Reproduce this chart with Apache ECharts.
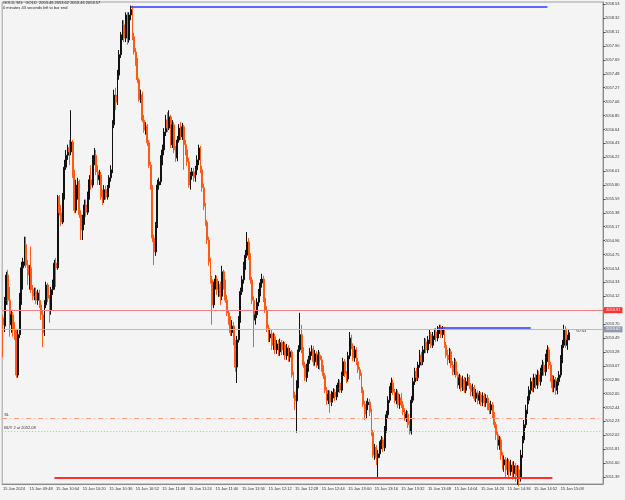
<!DOCTYPE html>
<html>
<head>
<meta charset="utf-8">
<script src="https://cdn.jsdelivr.net/npm/echarts@6/dist/echarts.min.js"></script>
<style>
  html, body { margin: 0; padding: 0; background: #f4f4f4; }
  #chart { width: 625px; height: 500px; }
</style>
</head>
<body>
<div id="chart"></div>
<script>
// GOLD M1, prices as cents above 2050.00
const opens = [379,367,406,444,406,369,384,361,354,293,354,406,455,464,490,459,444,455,422,412,419,406,417,399,384,357,399,429,409,391,
422,429,462,455,562,538,524,565,607,625,636,630,645,595,542,580,585,535,512,527,550,539,565,588,580,618,625,600,588,595,
562,558,573,562,576,591,603,671,716,705,746,777,807,822,802,837,799,837,845,804,781,766,739,709,716,678,663,669,644,610,
577,500,479,520,580,585,618,633,660,678,666,683,641,671,633,621,648,666,653,668,641,633,615,580,594,600,591,603,618,636,
603,576,548,524,497,464,437,399,428,438,422,429,412,449,429,406,387,376,357,367,343,305,346,376,419,437,458,474,494,473,
437,406,376,384,403,417,432,438,409,391,364,349,355,338,351,331,340,328,342,331,338,322,334,320,328,293,263,254,278,331,
354,331,308,289,304,316,328,332,313,325,308,323,316,304,292,270,255,264,252,263,267,260,273,281,270,292,313,295,287,322,
349,337,319,331,313,301,292,270,249,234,248,252,237,206,172,183,168,174,187,195,183,210,233,255,270,281,267,255,266,248,
258,248,237,228,234,218,207,255,283,298,289,308,323,313,331,343,331,346,354,338,352,358,349,361,364,354,361,338,323,316,
328,308,298,313,293,278,289,274,286,270,283,289,277,268,274,258,266,255,263,252,261,251,258,246,240,248,233,218,203,187,
195,172,157,165,150,162,147,157,144,156,141,150,138,172,195,218,240,255,270,283,274,289,278,293,283,298,308,298,319,331,
308,289,274,286,270,283,293,316,338,361,338,346];
const closes = [369,406,444,406,369,384,361,354,293,354,406,455,464,490,459,444,455,422,412,419,406,417,399,384,357,399,429,409,391,422,
429,462,455,562,538,524,565,607,625,636,630,645,595,542,580,585,535,512,527,550,539,565,588,580,618,625,600,588,595,562,
558,573,562,576,591,603,671,716,705,746,777,807,822,802,837,799,837,845,804,781,766,739,709,716,678,663,669,644,610,577,
500,479,520,580,585,618,633,660,678,666,683,641,671,633,621,648,666,653,668,641,633,615,580,594,600,591,603,618,636,603,
576,548,524,497,464,437,399,428,438,422,429,412,449,429,406,387,376,357,367,343,305,346,376,419,437,458,474,494,473,437,
406,376,384,403,417,432,438,409,391,364,349,355,338,351,331,340,328,342,331,338,322,334,320,328,293,263,254,278,331,354,
331,308,289,304,316,328,332,313,325,308,323,316,304,292,270,255,264,252,263,267,260,273,281,270,292,313,295,287,322,349,
337,319,331,313,301,292,270,249,234,248,252,237,206,172,183,168,174,187,195,183,210,233,255,270,281,267,255,266,248,258,
248,237,228,234,218,207,255,283,298,289,308,323,313,331,343,331,346,354,338,352,358,349,361,364,354,361,338,323,316,328,
308,298,313,293,278,289,274,286,270,283,289,277,268,274,258,266,255,263,252,261,251,258,246,240,248,233,218,203,187,195,
172,157,165,150,162,147,157,144,156,141,150,138,172,195,218,240,255,270,283,274,289,278,293,283,298,308,298,319,331,308,
289,274,286,270,283,293,316,338,361,338,346,357];
const highs = [384,411,449,452,426,391,388,373,361,361,417,464,470,502,502,467,459,487,429,425,425,422,422,406,391,406,434,432,414,426,
437,467,470,565,565,550,568,618,633,641,648,693,648,603,588,591,588,542,535,558,558,570,595,610,625,636,633,610,603,600,
573,580,579,580,595,610,678,724,727,754,784,811,829,829,841,841,841,851,851,810,787,772,742,724,721,686,675,672,648,615,
580,505,524,588,591,625,641,666,686,690,693,686,678,675,639,654,672,675,674,671,648,638,621,600,606,606,609,625,641,639,
609,582,553,527,502,470,443,434,444,443,435,434,458,452,437,414,391,382,376,373,346,352,382,425,443,464,482,509,500,477,
441,412,391,409,423,438,446,443,414,397,369,361,361,357,355,346,346,348,346,344,343,340,338,334,331,298,268,285,338,387,
369,335,313,310,322,334,338,337,331,329,331,328,322,308,296,275,270,270,269,273,272,278,287,286,298,319,317,299,328,358,
354,341,337,335,319,305,296,275,254,254,258,257,242,210,189,187,180,193,201,199,216,239,261,276,289,286,272,272,270,264,
266,254,243,240,239,224,261,289,304,304,313,331,328,337,349,348,352,361,358,358,363,364,367,369,369,367,366,343,331,334,
332,314,319,317,298,295,293,292,290,289,295,293,281,280,278,272,270,269,267,267,266,264,263,251,254,252,237,222,207,201,
199,177,171,169,168,166,165,162,163,160,157,156,180,201,225,248,261,276,289,289,295,295,301,299,304,316,313,325,338,335,
313,293,292,290,289,299,323,346,369,367,354,362];
const lows = [320,358,399,399,351,357,351,346,289,289,349,399,422,458,455,429,422,417,406,406,400,399,394,376,335,352,394,403,372,384,
414,422,426,452,534,518,521,558,603,618,610,625,591,538,538,558,530,497,497,520,532,535,558,573,576,610,595,580,580,558,
550,553,558,558,570,585,598,666,693,701,739,772,799,796,796,792,795,829,799,777,760,734,706,704,675,659,656,639,606,573,
494,459,473,515,573,580,610,625,654,660,663,636,636,628,615,616,644,648,648,603,625,609,576,573,588,585,585,595,610,598,
570,542,518,491,458,431,369,394,422,414,411,399,406,422,402,382,369,352,352,338,298,281,342,372,414,431,452,470,467,431,
400,335,369,379,397,412,425,403,387,358,343,343,331,331,325,325,322,322,323,323,316,316,313,313,289,258,240,206,273,328,
326,304,284,283,298,310,322,307,307,304,302,301,298,287,266,248,249,236,246,258,254,255,267,266,266,287,290,281,283,317,
332,314,313,308,296,286,266,245,225,228,240,231,201,168,165,157,139,168,181,177,178,206,228,251,266,263,251,249,243,242,
243,233,224,222,213,203,203,251,278,284,284,304,307,308,326,326,326,340,334,334,346,343,344,355,349,349,334,319,308,311,
304,293,293,289,273,272,268,269,266,266,277,272,261,261,254,252,249,249,246,246,245,245,240,234,234,228,213,195,180,180,
165,150,147,139,142,138,141,135,138,132,127,125,132,168,190,213,234,249,264,267,267,272,272,277,277,292,292,292,313,302,
283,267,267,263,264,277,289,311,334,334,331,346];

// time axis, one category per minute from 09:32, plus the right-side shift
const firstMinute = 9 * 60 + 32;
const barCount = 362;
const labelStep = 16;
const lastLabelIndex = 336;
const dateLabel = '15 Jan';
const yearLabel = '15 Jan 2024';

// right axis tick labels
const priceTicks = [2051.39,2051.60,2051.81,2052.02,2052.23,2052.44,2052.65,2052.86,2053.07,2053.28,2053.49,2053.70,
2053.91,2054.12,2054.33,2054.54,2054.75,2054.96,2055.17,2055.38,2055.59,2055.80,2056.01,2056.22,2056.43,2056.64,
2056.85,2057.06,2057.27,2057.48,2057.69,2057.90,2058.11,2058.32,2058.53];

// levels drawn on the chart
const askPrice = 2053.91;
const bidPrice = 2053.62;
const slPrice = 2052.28;
const buyPrice = 2052.08;
const topLevel = 2058.50;
const bottomLevel = 2051.38;
const midLevel = 2053.64;

const toPrice = v => +(2050 + v / 100).toFixed(2);

const categories = [];
for (let i = 0; i < barCount; i++) {
  const m = firstMinute + i;
  const hh = String(Math.floor(m / 60)).padStart(2, '0');
  const mm = String(m % 60).padStart(2, '0');
  categories.push(i === 0 ? yearLabel : dateLabel + ' ' + hh + ':' + mm);
}

const candles = opens.map((o, i) => [toPrice(o), toPrice(closes[i]), toPrice(lows[i]), toPrice(highs[i])]);
const showTime = i => i % labelStep === 0 && i <= lastLabelIndex;

const chart = echarts.init(document.getElementById('chart'));
const smallFont = '"Liberation Sans", Arial, sans-serif';
const fs = 4;

chart.setOption({
  backgroundColor: '#f4f4f4',
  animation: false,
  grid: {
    left: 0, right: 22, top: 2, bottom: 16,
    show: true, borderColor: '#a0a0a0', borderWidth: 1
  },
  xAxis: {
    type: 'category',
    data: categories,
    axisLine: { lineStyle: { color: '#8a8a8a' } },
    axisTick: { alignWithLabel: true, interval: showTime, length: 3, lineStyle: { color: '#555' } },
    axisLabel: {
      interval: showTime, fontSize: fs, color: '#333', align: 'left', margin: 3,
      fontFamily: smallFont, hideOverlap: false
    },
    splitLine: { show: false }
  },
  yAxis: {
    type: 'value',
    position: 'right',
    min: 2051.284,
    max: 2058.565,
    axisLine: { show: true, lineStyle: { color: '#8a8a8a' } },
    axisTick: { show: true, length: 2, customValues: priceTicks, lineStyle: { color: '#555' } },
    axisLabel: {
      customValues: priceTicks, fontSize: fs, color: '#333', margin: 2,
      fontFamily: smallFont,
      formatter: v => v.toFixed(2)
    },
    splitLine: { show: false }
  },
  graphic: [
    { type: 'text', left: 3, top: 1, style: { text: 'GOLD, M1:  GOLD  2053.46 2053.62 2053.46 2053.57', fill: '#222', font: fs + 'px ' + smallFont } },
    { type: 'text', left: 3, top: 6, style: { text: '0 minutes 43 seconds left to bar end', fill: '#222', font: fs + 'px ' + smallFont } },
    { type: 'text', left: 576, top: 329, style: { text: '<0:43', fill: '#333', font: fs + 'px ' + smallFont } }
  ],
  series: [{
    type: 'candlestick',
    data: candles,
    barWidth: 1.4,
    itemStyle: {
      color: '#111111', borderColor: '#111111',
      color0: '#ff5a14', borderColor0: '#ff5a14', borderWidth: 1
    },
    markLine: {
      silent: true,
      symbol: ['none', 'none'],
      animation: false,
      data: [
        {
          yAxis: askPrice,
          lineStyle: { color: '#ee8080', width: 1, type: 'solid' },
          label: { show: true, position: 'end', formatter: askPrice.toFixed(2), fontSize: fs, fontFamily: smallFont, color: '#fff', backgroundColor: '#ff3030', padding: [1, 2], distance: 1 }
        },
        {
          yAxis: bidPrice,
          lineStyle: { color: '#b4bcc6', width: 1, type: 'solid' },
          label: { show: true, position: 'end', formatter: bidPrice.toFixed(2), fontSize: fs, fontFamily: smallFont, color: '#fff', backgroundColor: '#8e9aa8', padding: [1, 2], distance: 1 }
        },
        {
          yAxis: slPrice,
          lineStyle: { color: '#ff9b80', width: 1, type: [5, 3, 1, 3] },
          label: { show: true, position: 'insideStartTop', formatter: 'SL', fontSize: fs, fontFamily: smallFont, color: '#333', distance: [2, 1] }
        },
        {
          yAxis: buyPrice,
          lineStyle: { color: '#90d890', width: 1, type: [1, 2] },
          label: { show: true, position: 'insideStartTop', formatter: 'BUY 2 at 2052.08', fontSize: fs, fontFamily: smallFont, color: '#333', distance: [2, 1] }
        },
        [
          { coord: [categories[77], topLevel], lineStyle: { color: '#2a3cff', width: 1.5, type: 'solid' }, label: { show: false } },
          { coord: [categories[328], topLevel] }
        ],
        [
          { coord: [categories[31], bottomLevel], lineStyle: { color: '#ff3030', width: 2, type: 'solid' }, label: { show: false } },
          { coord: [categories[331], bottomLevel] }
        ],
        [
          { coord: [categories[262], midLevel], lineStyle: { color: '#2a3cff', width: 1.5, type: 'solid' }, label: { show: false } },
          { coord: [categories[318], midLevel] }
        ]
      ]
    }
  }]
});
</script>
</body>
</html>
